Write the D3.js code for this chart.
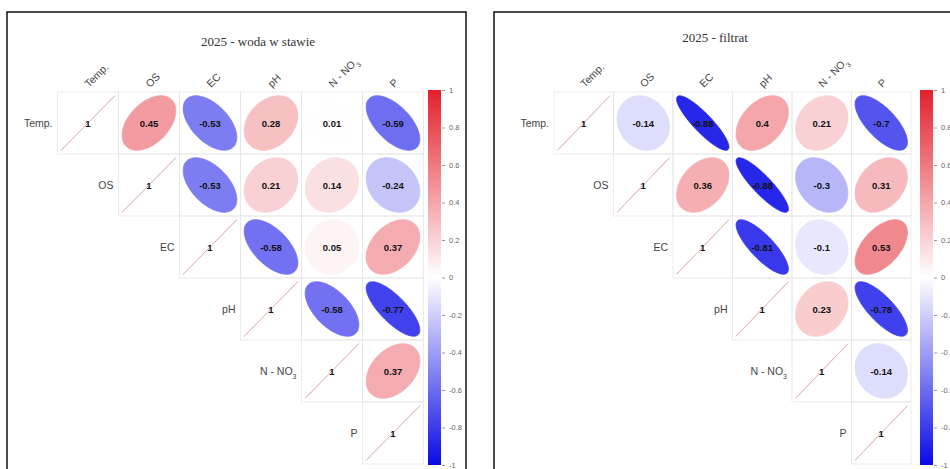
<!DOCTYPE html>
<html><head><meta charset="utf-8">
<script src="https://cdn.jsdelivr.net/npm/d3@7"></script>
<style>body{margin:0;background:#fff}svg{display:block}</style>
</head><body>
<svg id="c" width="950" height="469"></svg>
<script>
// ---- data ----
const variables = ["Temp.", "OS", "EC", "pH", "N - NO3", "P"];
const colorTicks = [1, 0.8, 0.6, 0.4, 0.2, 0, -0.2, -0.4, -0.6, -0.8, -1];
const titleWoda = "2025 - woda w stawie";
const titleFiltrat = "2025 - filtrat";
// upper triangle rows (null = not drawn)
const corrWoda = [
  [1, 0.45, -0.53, 0.28, 0.01, -0.59],
  [null, 1, -0.53, 0.21, 0.14, -0.24],
  [null, null, 1, -0.58, 0.05, 0.37],
  [null, null, null, 1, -0.58, -0.77],
  [null, null, null, null, 1, 0.37],
  [null, null, null, null, null, 1]
];
const corrFiltrat = [
  [1, -0.14, -0.88, 0.4, 0.21, -0.7],
  [null, 1, 0.36, -0.88, -0.3, 0.31],
  [null, null, 1, -0.81, -0.1, 0.53],
  [null, null, null, 1, 0.23, -0.78],
  [null, null, null, null, 1, -0.14],
  [null, null, null, null, null, 1]
];

const svg = d3.select("#c");
const color = d3.scaleLinear().domain([-1, 0, 1]).range(["#0a0ae6", "#ffffff", "#e3202c"]).interpolate(d3.interpolateRgb);

const defs = svg.append("defs");
const grad = defs.append("linearGradient").attr("id", "cbar").attr("x1", 0).attr("y1", 0).attr("x2", 0).attr("y2", 1);
d3.range(0, 1.0001, 0.1).forEach(t => grad.append("stop").attr("offset", t).attr("stop-color", color(1 - 2 * t)));

function ellipsePath(rho, w, h) {
  const d = Math.acos(Math.max(-1, Math.min(1, rho)));
  const pts = d3.range(0, 100).map(i => {
    const k = i / 99 * 2 * Math.PI;
    return [Math.cos(k + d / 2) / 2 * 0.88 * w, -Math.cos(k - d / 2) / 2 * 0.88 * h];
  });
  return d3.line()(pts) + "Z";
}

function fmt(v) { return String(v); }

function label(t, name) {
  if (name === "N - NO3") {
    t.append("tspan").text("N - NO");
    t.append("tspan").attr("baseline-shift", "sub").attr("font-size", 7).text("3");
  } else t.text(name);
}

function panel(cfg) {
  const g = svg.append("g");
  g.append("rect").attr("x", cfg.frame[0]).attr("y", cfg.frame[1]).attr("width", cfg.frame[2]).attr("height", cfg.frame[3])
    .attr("fill", "#fff").attr("stroke", "#111").attr("stroke-width", 1.5);
  g.append("text").attr("x", cfg.titleX).attr("y", cfg.titleY).attr("text-anchor", "middle")
    .attr("font-family", "Liberation Serif, Times New Roman, serif").attr("font-size", 13).attr("fill", "#333").text(cfg.title);

  const x = d3.scaleBand().domain(variables).range(cfg.xr);
  const y = d3.scaleBand().domain(variables).range(cfg.yr);
  const bw = x.bandwidth(), bh = y.bandwidth();

  const cells = [];
  cfg.data.forEach((row, i) => row.forEach((v, j) => { if (v !== null) cells.push({ r: variables[i], c: variables[j], v, diag: i === j }); }));

  g.selectAll("rect.cell").data(cells).join("rect").attr("class", "cell")
    .attr("x", d => x(d.c)).attr("y", d => y(d.r)).attr("width", bw).attr("height", bh)
    .attr("fill", "none").attr("stroke", "#e6e6e6").attr("stroke-width", 0.8);

  g.selectAll("path.ell").data(cells).join("path").attr("class", "ell")
    .attr("transform", d => `translate(${x(d.c) + bw / 2},${y(d.r) + bh / 2})`)
    .attr("d", d => ellipsePath(d.v, bw, bh))
    .attr("fill", d => d.diag ? "none" : color(d.v))
    .attr("stroke", d => d.diag ? "#e3b8b8" : color(d.v))
    .attr("stroke-width", d => d.diag ? 1 : 0.8);

  g.selectAll("text.coef").data(cells).join("text").attr("class", "coef")
    .attr("x", d => x(d.c) + bw / 2).attr("y", d => y(d.r) + bh / 2 + 3.5)
    .attr("text-anchor", "middle").attr("font-family", "Liberation Sans, Arial, sans-serif")
    .attr("font-size", 9.5).attr("font-weight", "bold").attr("fill", "#111").text(d => fmt(d.v));

  variables.forEach((name, i) => {
    const t = g.append("text").attr("x", x(variables[i]) - 5).attr("y", y(name) + bh / 2 + 3.5)
      .attr("text-anchor", "end").attr("font-family", "Liberation Sans, Arial, sans-serif").attr("font-size", 10.5).attr("fill", "#444");
    label(t, name);
  });
  variables.forEach(name => {
    const cx = x(name) + bw / 2 + 1, cy = cfg.yr[0] - 4;
    const t = g.append("text").attr("transform", `translate(${cx},${cy}) rotate(-45)`)
      .attr("font-family", "Liberation Sans, Arial, sans-serif").attr("font-size", 10.5).attr("fill", "#444");
    label(t, name);
  });

  const cb = d3.scaleLinear().domain([-1, 1]).range([cfg.yr[1] + 1, cfg.yr[0] - 2]);
  g.append("rect").attr("x", cfg.cbX).attr("y", cb(1)).attr("width", cfg.cbW).attr("height", cb(-1) - cb(1)).attr("fill", "url(#cbar)");
  const ax = g.append("g").attr("transform", `translate(${cfg.cbX + cfg.cbW + 1},0)`)
    .call(d3.axisRight(cb).tickValues(colorTicks).tickSize(3).tickFormat(d => String(d)));
  ax.select(".domain").remove();
  ax.selectAll("line").attr("stroke", "#999");
  ax.selectAll("text").attr("font-family", "Liberation Sans, Arial, sans-serif").attr("font-size", 7.5).attr("fill", "#666").attr("x", 7);
}

panel({ data: corrWoda, title: titleWoda, titleX: 258, titleY: 46, frame: [7, 12, 459, 470],
  xr: [57.5, 423.5], yr: [92, 464], cbX: 428, cbW: 13 });
panel({ data: corrFiltrat, title: titleFiltrat, titleX: 715, titleY: 42, frame: [494, 12, 470, 470],
  xr: [554, 911], yr: [92, 464], cbX: 920, cbW: 13 });
</script>
</body></html>
